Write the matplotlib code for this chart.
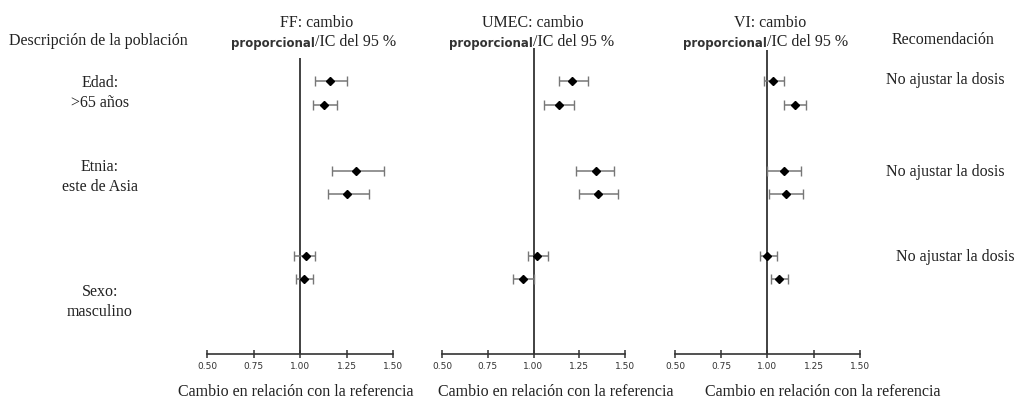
import matplotlib.pyplot as plt

W, H = 1023, 405

# ---- data ----
groups = ["Edad:\n>65 años", "Etnia:\neste de Asia", "Sexo:\nmasculino"]
recommendations = ["No ajustar la dosis", "No ajustar la dosis", "No ajustar la dosis"]
panel_names = ["FF", "UMEC", "VI"]
ticks = [0.50, 0.75, 1.00, 1.25, 1.50]
tick_labels = ["0.50", "0.75", "1.00", "1.25", "1.50"]

ff_est = [1.16, 1.13, 1.30, 1.25, 1.03, 1.02]
ff_lo = [1.08, 1.07, 1.17, 1.15, 0.97, 0.98]
ff_hi = [1.25, 1.20, 1.45, 1.37, 1.08, 1.07]

umec_est = [1.21, 1.14, 1.34, 1.35, 1.02, 0.94]
umec_lo = [1.14, 1.06, 1.23, 1.25, 0.97, 0.89]
umec_hi = [1.30, 1.22, 1.44, 1.46, 1.08, 1.00]

vi_est = [1.03, 1.15, 1.09, 1.10, 1.00, 1.06]
vi_lo = [0.98, 1.09, 1.00, 1.01, 0.96, 1.02]
vi_hi = [1.09, 1.21, 1.18, 1.19, 1.05, 1.11]

# ---- layout (pixels) ----
row_y = [81, 105, 171, 194, 256, 279]
axis_y = 354
panels = [  # left px (0.50), right px (1.50), top px, header centre px, split px, xlabel centre px
    (207, 393, 58, 317, 315, 296),
    (442, 625, 48, 533, 533, 556),
    (675, 860, 50, 770, 767, 823),
]
serif = "Liberation Serif"
fs = 11.5

fig = plt.figure(figsize=(W / 100, H / 100), dpi=100)
fig.patch.set_facecolor("white")


def fx(px):
    return px / W


def fy(py):
    return 1 - py / H


series = [(ff_est, ff_lo, ff_hi), (umec_est, umec_lo, umec_hi), (vi_est, vi_lo, vi_hi)]

for (x0, x1, top, head_c, split, xlab_c), name, (est, lo, hi) in zip(panels, panel_names, series):
    ax = fig.add_axes([fx(x0), fy(axis_y), (x1 - x0) / W, (axis_y - top) / H])
    ax.set_xlim(0.5, 1.5)
    ax.set_ylim(axis_y, top)
    for s in ["left", "right", "top"]:
        ax.spines[s].set_visible(False)
    ax.spines["bottom"].set_color("#333333")
    ax.spines["bottom"].set_linewidth(1.2)
    ax.set_yticks([])
    ax.set_xticks(ticks)
    ax.set_xticklabels(tick_labels, fontsize=6.5, color="#333333")
    ax.tick_params(axis="x", direction="inout", length=6, width=1.1, color="#333333", pad=3)
    ax.axvline(1.0, color="#333333", lw=1.3, zorder=1)

    err = [[e - l for e, l in zip(est, lo)], [h - e for e, h in zip(est, hi)]]
    ax.errorbar(est, row_y, xerr=err, fmt="D", color="black", ms=4.5,
                ecolor="#777777", elinewidth=1.1, capsize=3.5, capthick=1, zorder=3)

    # headers
    fig.text(fx(head_c), fy(23), f"{name}: cambio", ha="center", va="center",
             family=serif, fontsize=fs, color="#222222")
    fig.text(fx(split), fy(44), "proporcional", ha="right", va="center", family="DejaVu Sans",
             fontweight="bold", fontsize=8.5, color="#333333")
    fig.text(fx(split), fy(42), "/IC del 95 %", ha="left", va="center",
             family=serif, fontsize=fs, color="#222222")
    fig.text(fx(xlab_c), fy(392), "Cambio en relación con la referencia", ha="center", va="center",
             family=serif, fontsize=fs, color="#222222")

# left column
fig.text(fx(98), fy(41), "Descripción de la población", ha="center", va="center",
         family=serif, fontsize=fs, color="#222222")
group_y = [93, 177, 302]
for g, gy in zip(groups, group_y):
    fig.text(fx(100), fy(gy), g, ha="center", va="center", family=serif, fontsize=fs,
             color="#222222", linespacing=1.3)

# right column
fig.text(fx(943), fy(40), "Recomendación", ha="center", va="center",
         family=serif, fontsize=fs, color="#222222")
rec_pos = [(945, 80), (945, 172), (955, 257)]
for r, (rx, ry) in zip(recommendations, rec_pos):
    fig.text(fx(rx), fy(ry), r, ha="center", va="center", family=serif, fontsize=fs, color="#222222")

fig.savefig("out.png", dpi=100, facecolor="white")
